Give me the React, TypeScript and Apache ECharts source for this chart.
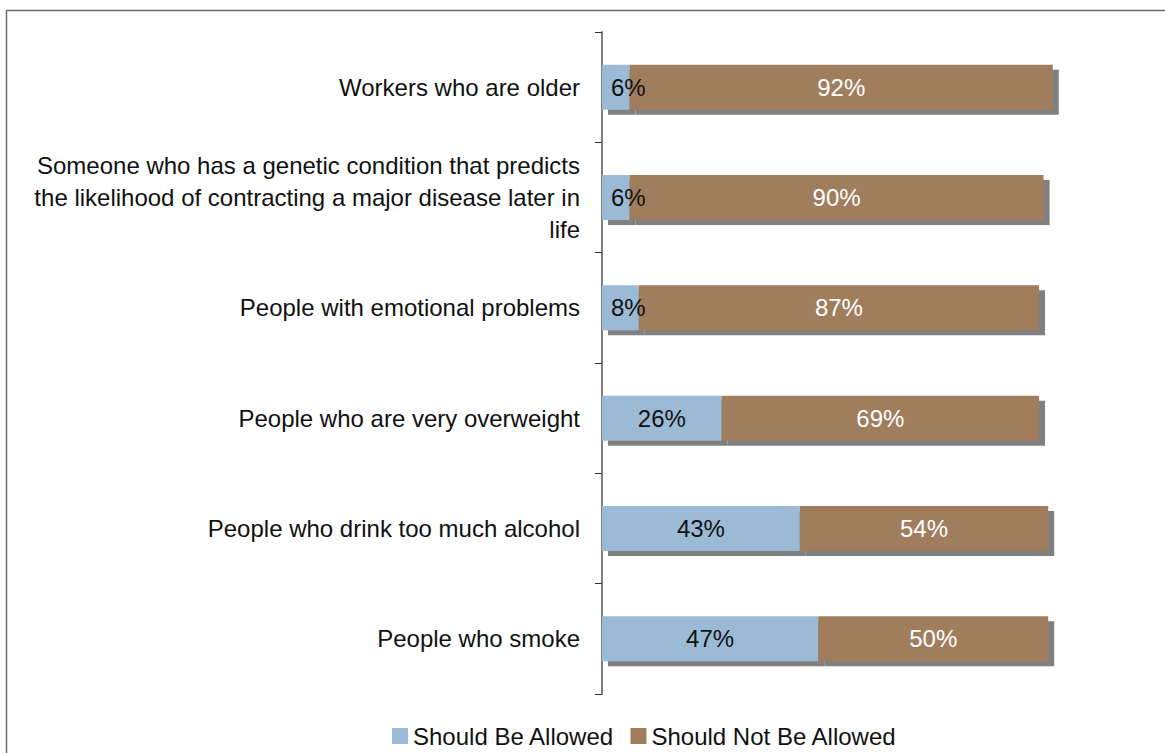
import React, { useEffect, useRef } from "react";
import * as echarts from "echarts";

const categories = [
  "Workers who are older",
  "Someone who has a genetic condition that predicts\nthe likelihood of contracting a major disease later in\nlife",
  "People with emotional problems",
  "People who are very overweight",
  "People who drink too much alcohol",
  "People who smoke",
];
const allowed = [6, 6, 8, 26, 43, 47];
const notAllowed = [92, 90, 87, 69, 54, 50];
const seriesNames = ["Should Be Allowed", "Should Not Be Allowed"];
const colors = ["#9BBAD6", "#A07E5D"];

const FONT = "'Liberation Sans', Arial, Helvetica, sans-serif";
const FS = 24;

export default function App() {
  const ref = useRef<HTMLDivElement>(null);
  useEffect(() => {
    document.body.style.margin = "0";
    if (!ref.current) return;
    const chart = echarts.init(ref.current, null, { renderer: "svg" });
    const shadow = {
      shadowColor: "#808080",
      shadowBlur: 0,
      shadowOffsetX: 6,
      shadowOffsetY: 5,
    };
    chart.setOption({
      animation: false,
      backgroundColor: "#ffffff",
      textStyle: { fontFamily: FONT },
      graphic: [
        {
          type: "rect",
          shape: { x: 6.5, y: 10.5, width: 1300, height: 900 },
          style: { fill: "none", stroke: "#6e6e6e", lineWidth: 1.5 },
          silent: true,
          z: 100,
        },
      ],
      grid: { left: 602, right: 103, top: 32, bottom: 59 },
      legend: {
        left: 387,
        top: 719,
        itemWidth: 16,
        itemHeight: 16,
        itemGap: 16,
        icon: "rect",
        textStyle: { fontSize: FS, color: "#111", fontFamily: FONT },
        data: seriesNames,
      },
      xAxis: { type: "value", min: 0, max: 100, show: false },
      yAxis: {
        type: "category",
        inverse: true,
        data: categories,
        axisLine: { lineStyle: { color: "#7f7f7f", width: 2 } },
        axisTick: { show: true, length: 7, lineStyle: { color: "#333", width: 1 } },
        axisLabel: {
          margin: 22,
          fontSize: FS,
          color: "#111",
          fontFamily: FONT,
          lineHeight: 32,
          align: "right",
        },
      },
      series: [
        {
          name: seriesNames[0],
          type: "bar",
          stack: "total",
          barWidth: 45,
          data: allowed.map((v) =>
            v < 10
              ? { value: v, label: { position: "insideLeft", distance: 9 } }
              : v
          ),
          itemStyle: { color: colors[0], ...shadow },
          label: {
            show: true,
            position: "inside",
            formatter: "{c}%",
            color: "#111",
            fontSize: FS,
            fontFamily: FONT,
          },
        },
        {
          name: seriesNames[1],
          type: "bar",
          stack: "total",
          barWidth: 45,
          data: notAllowed,
          itemStyle: { color: colors[1], ...shadow },
          label: {
            show: true,
            position: "inside",
            formatter: "{c}%",
            color: "#ffffff",
            fontSize: FS,
            fontFamily: FONT,
          },
        },
      ],
    });
    return () => chart.dispose();
  }, []);
  return <div ref={ref} style={{ width: 1165, height: 753 }} />;
}
